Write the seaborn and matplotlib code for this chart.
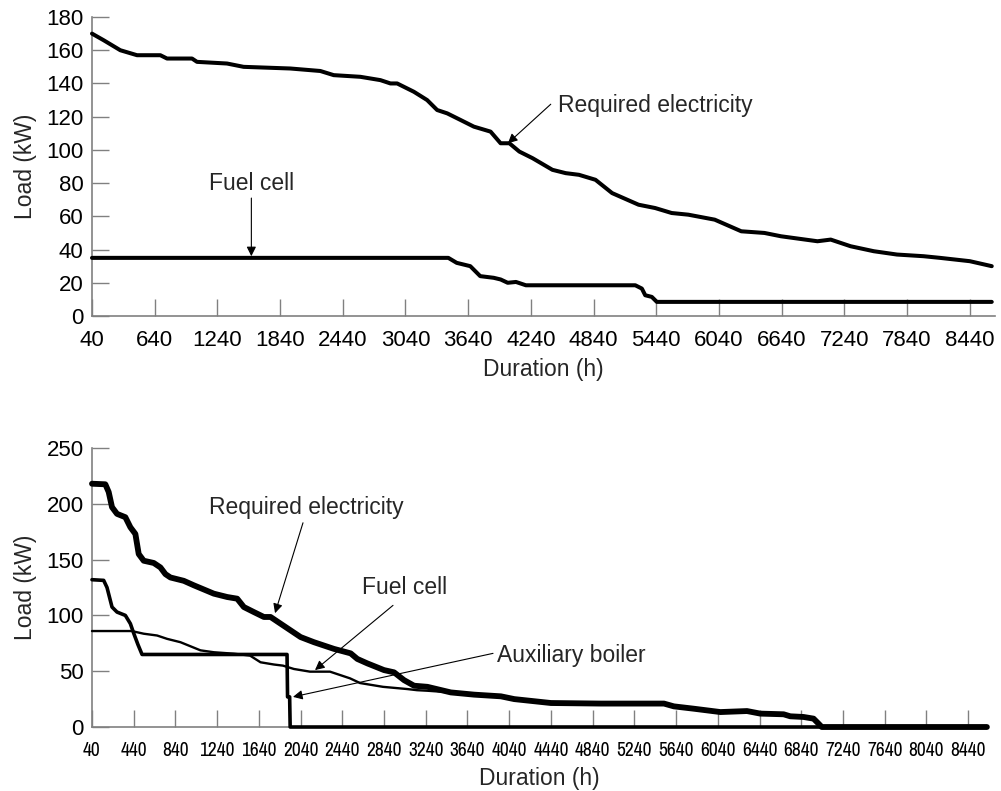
import numpy as np
import pandas as pd
import matplotlib
matplotlib.use("Agg")
import matplotlib.pyplot as plt
from matplotlib import font_manager
import seaborn as sns

# ---------------- data ----------------
top_req_h = [40, 152, 311, 471, 694, 758, 997, 1045, 1332, 1491, 1938, 2225, 2353, 2608,
             2800, 2896, 2960, 3120, 3247, 3343, 3439, 3567, 3694, 3854, 3950, 4034, 4129,
             4256, 4446, 4573, 4700, 4858, 5017, 5270, 5429, 5587, 5746, 5999, 6253, 6475,
             6633, 6982, 7109, 7299, 7521, 7743, 7997, 8155, 8440, 8650]
top_req = [170, 166, 160, 157, 157, 155, 155, 153, 152, 150, 149, 147.5, 145, 144,
           142, 140, 140, 135, 130, 124, 122, 118, 114, 111, 104, 104, 99,
           95, 88, 86, 85, 82, 74, 67, 65, 62, 61, 58, 51, 50,
           48, 45, 46, 42, 39, 37, 36, 35, 33, 30]

top_fc_h = [40, 3450, 3530, 3660, 3755, 3884, 3950, 4018, 4097, 4192, 5239, 5302, 5334,
            5397, 5445, 8650]
top_fc = [35, 35, 32, 30, 24, 23, 22, 20, 20.5, 18.5, 18.5, 16.5, 12.5, 11.5, 8.5, 8.5]

bot_req_h = [40, 168, 200, 232, 280, 360, 408, 456, 488, 536, 632, 696, 744, 792, 920,
             1016, 1144, 1208, 1336, 1432, 1496, 1592, 1688, 1752, 1848, 1944, 2040, 2168,
             2360, 2520, 2584, 2680, 2840, 2936, 3032, 3128, 3256, 3480, 3704, 3960, 4089,
             4440, 4918, 5524, 5619, 5810, 6065, 6320, 6448, 6671, 6735, 6862, 6958, 7006,
             7037, 8620]
bot_req = [218, 217.5, 210.6, 197, 191, 188, 179, 173, 155, 149, 147, 143, 137, 134, 131,
           127, 122, 119.5, 116.5, 115, 107.5, 103, 98.6, 98.6, 92.6, 86.6, 80.6, 76,
           70, 66, 61, 57, 51, 49, 42, 37, 36, 31, 29, 27.5, 25,
           21.5, 21, 21, 18.5, 16.4, 13.4, 14.3, 12, 11.4, 9.6, 9, 7.5, 3,
           0, 0]

bot_fc_h = [40, 420, 536, 664, 760, 888, 1080, 1208, 1400, 1555, 1656, 1784, 1871, 1976,
            2130, 2322, 2514, 2610, 2830, 3064, 3156, 3256, 3480, 3704, 3960, 4089, 4440,
            4918, 5524, 5619, 5810, 6065, 6320, 6448, 6671, 6735, 6862, 6958, 7006, 7037,
            8620]
bot_fc = [86, 86, 83.6, 82, 79, 76, 68.7, 67, 65.7, 64, 58, 56, 55, 52,
          49.6, 49.6, 43.6, 39.4, 36, 34, 33, 32.5, 31, 29, 27.5, 25, 21.5,
          21, 21, 18.5, 16.4, 13.4, 14.3, 12, 11.4, 9.6, 9, 7.5, 3, 0,
          0]

aux_h = [40, 152, 184, 232, 280, 360, 408, 440, 480, 520, 1910, 1915, 1935, 1940, 8620]
aux = [132, 131.4, 125, 107.5, 103, 100, 92.6, 84, 74, 65, 65, 27, 27, 0, 0]

top_xticks = [40, 640, 1240, 1840, 2440, 3040, 3640, 4240, 4840, 5440, 6040, 6640, 7240, 7840, 8440]
top_yticks = [0, 20, 40, 60, 80, 100, 120, 140, 160, 180]
bot_xticks = [40, 440, 840, 1240, 1640, 2040, 2440, 2840, 3240, 3640, 4040, 4440, 4840,
              5240, 5640, 6040, 6440, 6840, 7240, 7640, 8040, 8440]
bot_yticks = [0, 50, 100, 150, 200, 250]

# ---------------- style ----------------
sns.set_theme(style="ticks")
plt.rcParams['font.family'] = ['Liberation Sans', 'DejaVu Sans']

def has_font(name):
    try:
        font_manager.findfont(name, fallback_to_default=False)
        return True
    except Exception:
        return False

narrow = None
for cand in ('Liberation Sans Narrow', 'Archivo Narrow'):
    if has_font(cand):
        narrow = cand
        break

SPINE = '#808080'
fig = plt.figure(figsize=(10.01, 7.91), dpi=100)
ax1 = fig.add_axes([0.0919, 0.6005, 0.902, 0.378])
ax2 = fig.add_axes([0.0919, 0.0809, 0.894, 0.3527])

def lp(ax, x, y, lw):
    df = pd.DataFrame({'h': x, 'kw': y})
    sns.lineplot(data=df, x='h', y='kw', ax=ax, color='black', lw=lw,
                 estimator=None, sort=False, solid_joinstyle='round', clip_on=False,
                 zorder=3)

lp(ax1, top_req_h, top_req, 2.9)
lp(ax1, top_fc_h, top_fc, 2.9)

lp(ax2, aux_h, aux, 2.6)
lp(ax2, bot_fc_h, bot_fc, 1.7)
lp(ax2, bot_req_h, bot_req, 4.2)

for ax in (ax1, ax2):
    sns.despine(ax=ax)
    ax.spines['left'].set_color(SPINE)
    ax.spines['bottom'].set_color(SPINE)
    ax.spines['left'].set_linewidth(1.2)
    ax.spines['bottom'].set_linewidth(1.2)
    ax.tick_params(direction='in', length=12, width=1, color=SPINE, pad=6,
                   labelcolor='black')
    ax.set_ylabel('Load (kW)', fontsize=16.5)

ax1.set_xlim(40, 8680)
ax1.set_ylim(0, 180)
ax1.set_xticks(top_xticks)
ax1.set_yticks(top_yticks)
ax1.tick_params(axis='both', labelsize=16)
ax1.tick_params(axis='x', pad=10)
ax1.yaxis.set_label_coords(-0.061, 0.5)
ax1.set_xlabel('Duration (h)', fontsize=16.5, labelpad=5)

ax2.set_xlim(40, 8620)
ax2.set_ylim(0, 250)
ax2.set_xticks(bot_xticks)
ax2.set_yticks(bot_yticks)
ax2.tick_params(axis='y', labelsize=16)
ax2.tick_params(axis='x', pad=10)
if narrow:
    ax2.tick_params(axis='x', labelsize=14)
    for t in ax2.get_xticklabels():
        t.set_fontfamily([narrow, 'Liberation Sans'])
else:
    ax2.tick_params(axis='x', labelsize=12)
ax2.yaxis.set_label_coords(-0.0615, 0.5)
ax2.set_xlabel('Duration (h)', fontsize=16.5, labelpad=5)

arrow = dict(arrowstyle='-|>', color='black', lw=0.8, mutation_scale=14,
             shrinkA=0, shrinkB=0)
fs = 16.5
ax1.annotate('Fuel cell', xy=(1565, 80), ha='center', va='center', fontsize=fs)
ax1.annotate('', xy=(1565, 36), xytext=(1565, 71), arrowprops=arrow)
ax1.annotate('Required electricity', xy=(4500, 127), ha='left', va='center', fontsize=fs)
ax1.annotate('', xy=(4020, 104), xytext=(4430, 127.5), arrowprops=arrow)

ax2.annotate('Required electricity', xy=(2092, 197), ha='center', va='center', fontsize=fs)
ax2.annotate('', xy=(1795, 102), xytext=(2063, 183), arrowprops=arrow)
ax2.annotate('Fuel cell', xy=(2629, 124.6), ha='left', va='center', fontsize=fs)
ax2.annotate('', xy=(2178, 51), xytext=(2926, 109), arrowprops=arrow)
ax2.annotate('Auxiliary boiler', xy=(3923, 64.5), ha='left', va='center', fontsize=fs)
ax2.annotate('', xy=(1967, 27), xytext=(3885, 66), arrowprops=arrow)

fig.savefig('out.png', dpi=100)
